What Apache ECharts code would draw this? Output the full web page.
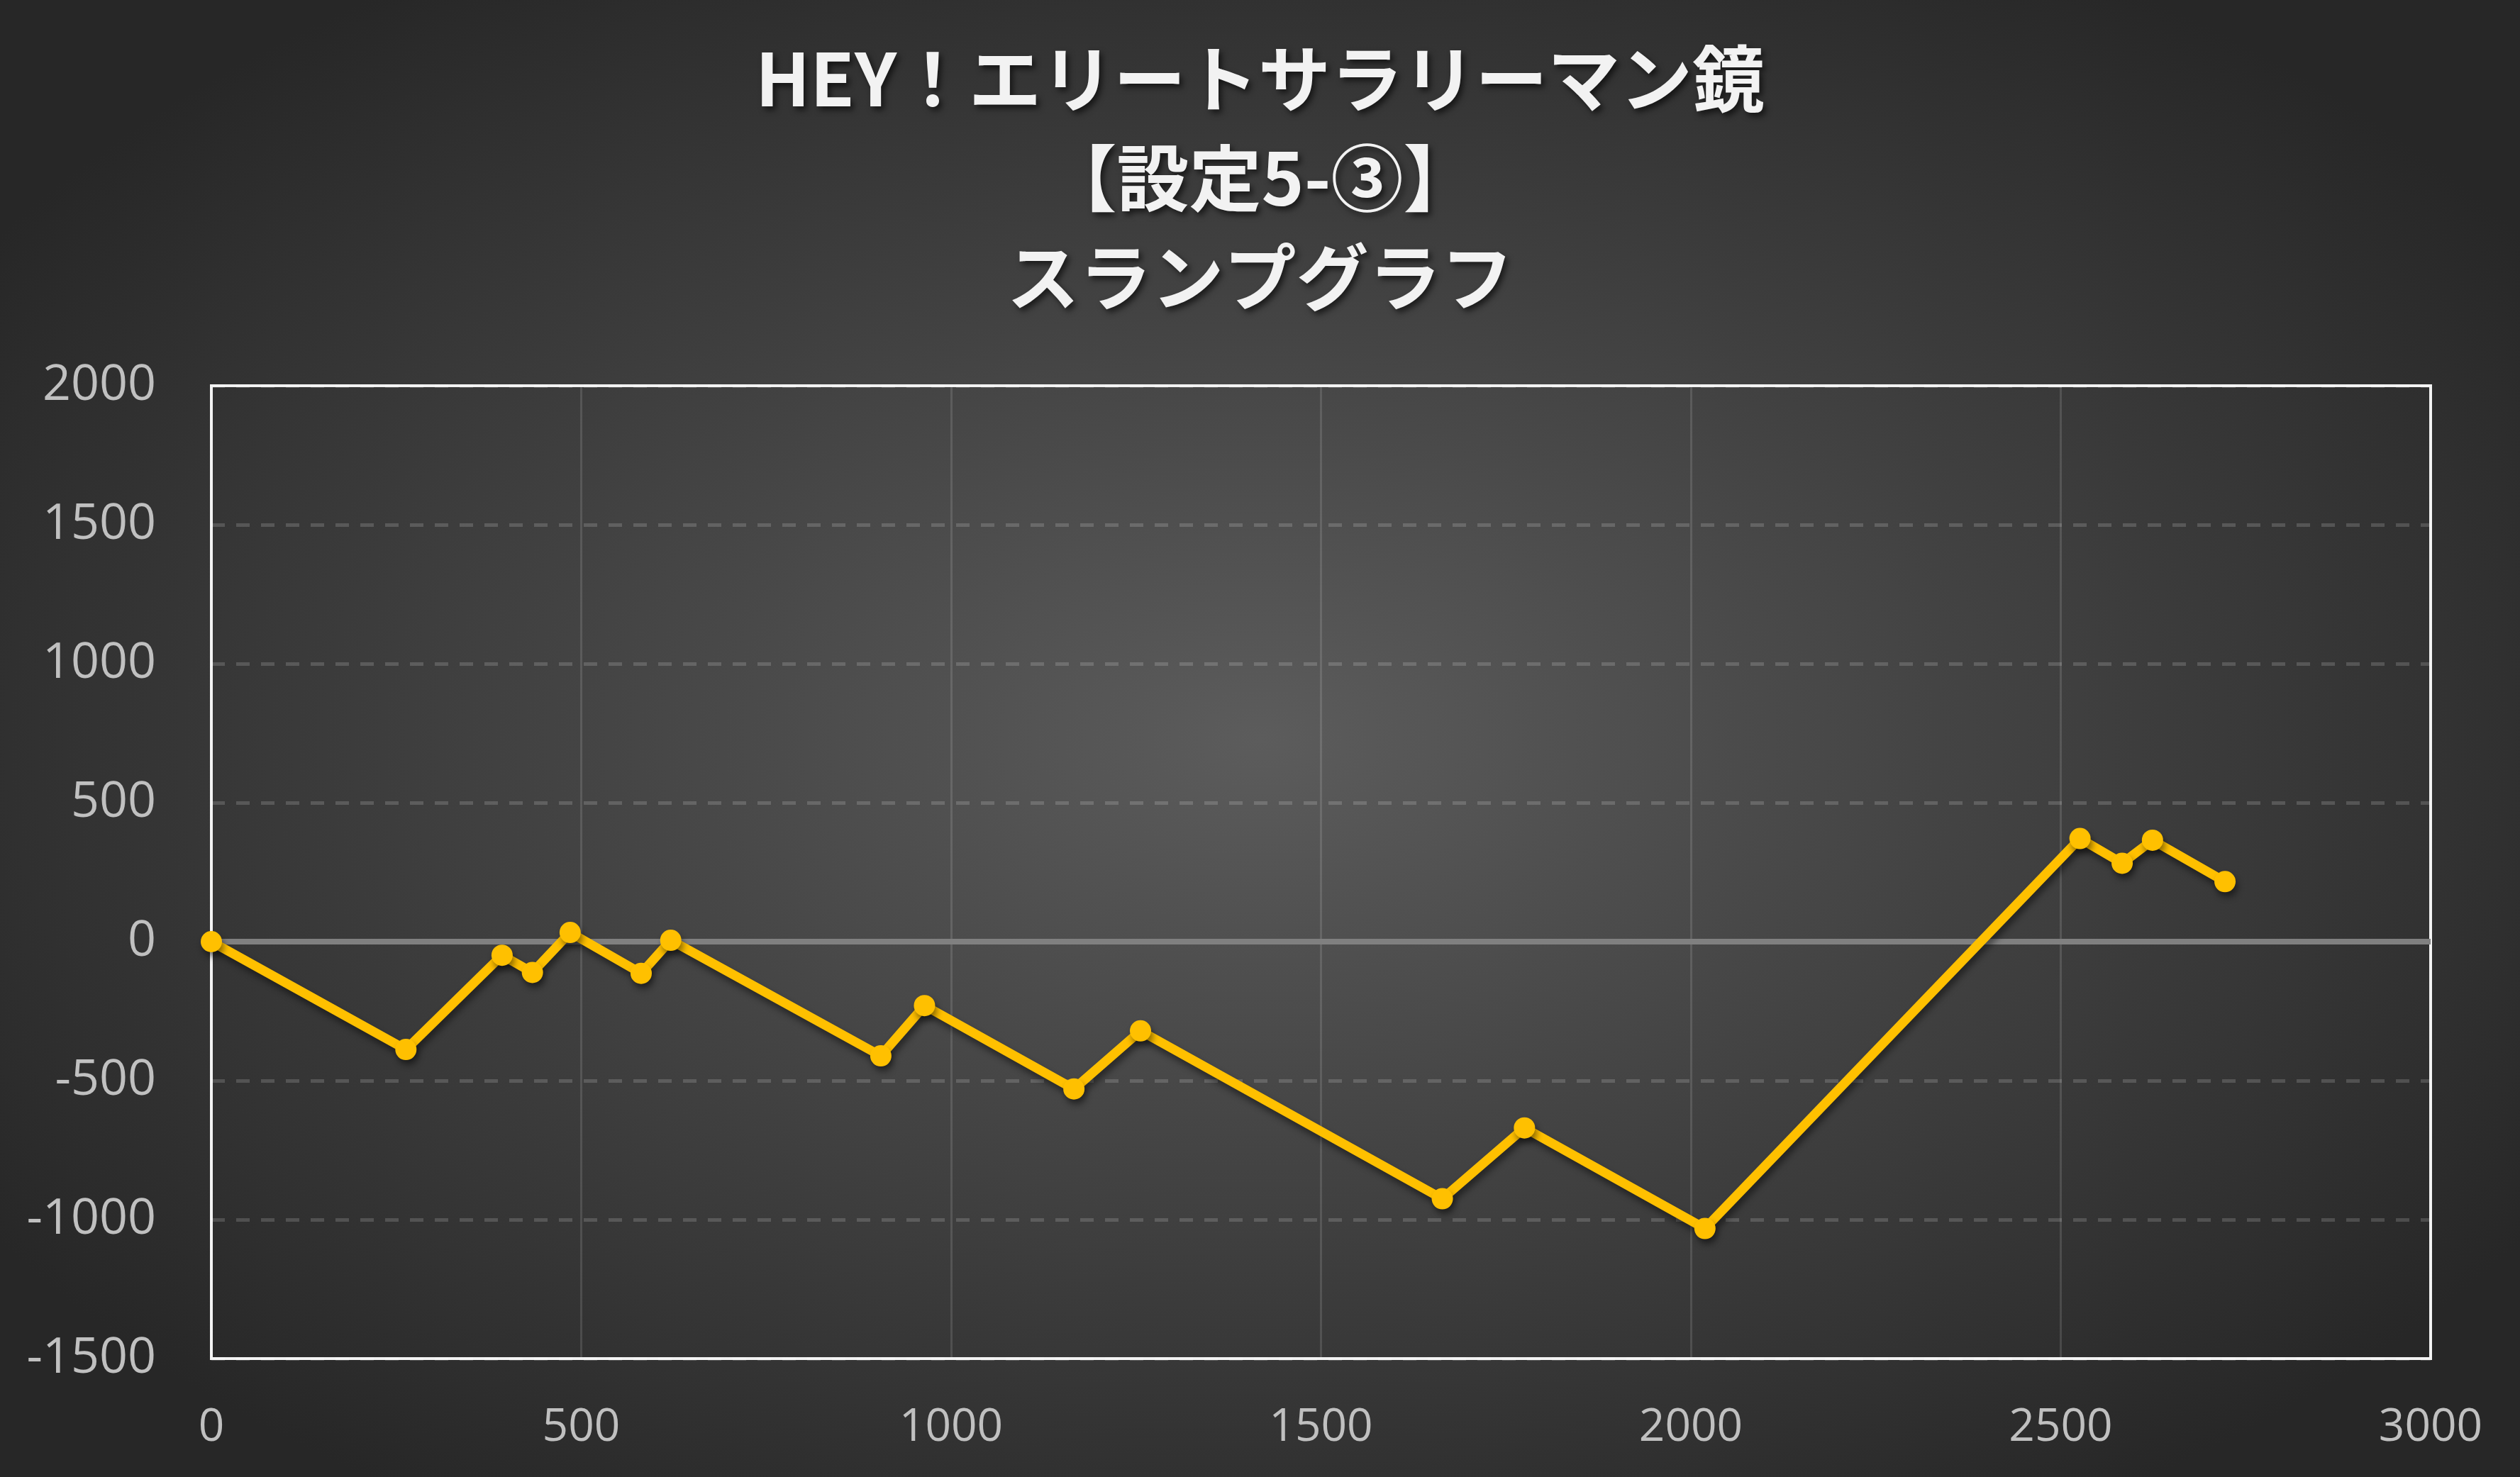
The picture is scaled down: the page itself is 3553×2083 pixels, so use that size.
<!DOCTYPE html>
<html>
<head>
<meta charset="utf-8">
<script src="https://cdn.jsdelivr.net/npm/echarts@6/dist/echarts.min.js"></script>
<style>
html,body{margin:0;padding:0;width:100%;height:100%;overflow:hidden;}
#chart{width:3553px;height:2083px;background:radial-gradient(ellipse 60% 62% at 50% 50%, #5c5c5c 0%, #3c3c3c 60%, #272727 100%);}
</style>
</head>
<body>
<div id="chart"></div>
<script>
const titleText = 'HEY！エリートサラリーマン鏡\n【設定5-③】\nスランプグラフ';
const games = [0, 263, 393, 434, 485, 581, 621, 905, 964, 1166, 1256, 1664, 1775, 2019, 2526, 2583, 2624, 2722];
const diff  = [0, -388, -49, -111, 33, -114, 5, -411, -230, -530, -321, -925, -670, -1032, 371, 282, 365, 216];
const xTicks = { min: 0, max: 3000, interval: 500 };
const yTicks = { min: -1500, max: 2000, interval: 500 };

const points = games.map((g, i) => [g, diff[i]]);
const plain = v => String(v);

const chart = echarts.init(document.getElementById('chart'), null, { renderer: 'canvas' });
chart.setOption({
  backgroundColor: 'transparent',
  animation: false,
  title: {
    text: titleText,
    left: 'center',
    top: 36,
    textStyle: {
      fontFamily: '"Noto Sans CJK JP", sans-serif',
      fontWeight: 'bold',
      fontSize: 102,
      lineHeight: 140,
      color: '#f2f2f2',
      textShadowColor: 'rgba(0,0,0,0.6)',
      textShadowBlur: 8,
      textShadowOffsetX: 4,
      textShadowOffsetY: 5
    }
  },
  grid: {
    left: 298, right: 126, top: 544, bottom: 167,
    containLabel: false,
    show: true,
    borderColor: '#f2f2f2',
    borderWidth: 4,
    backgroundColor: 'transparent'
  },
  xAxis: {
    type: 'value',
    min: xTicks.min, max: xTicks.max, interval: xTicks.interval,
    axisLine: { show: false, onZero: false },
    axisTick: { show: false },
    axisLabel: {
      margin: 66,
      formatter: plain,
      fontFamily: '"Open Sans", sans-serif',
      fontSize: 64,
      color: '#c0c0c0'
    },
    splitLine: { show: true, lineStyle: { color: 'rgba(255,255,255,0.13)', width: 3, type: 'solid' } }
  },
  yAxis: {
    type: 'value',
    min: yTicks.min, max: yTicks.max, interval: yTicks.interval,
    axisLine: { show: false },
    axisTick: { show: false },
    axisLabel: {
      margin: 78,
      formatter: plain,
      fontFamily: '"Open Sans", sans-serif',
      fontSize: 70,
      color: '#c0c0c0'
    },
    splitLine: { show: true, lineStyle: { color: 'rgba(255,255,255,0.16)', width: 5, type: [19, 16] } }
  },
  series: [{
    type: 'line',
    data: points,
    z: 3,
    symbol: 'circle',
    symbolSize: 30,
    lineStyle: {
      color: '#FFC000',
      width: 13,
      shadowColor: 'rgba(0,0,0,0.45)',
      shadowBlur: 10,
      shadowOffsetX: 3,
      shadowOffsetY: 7
    },
    itemStyle: {
      color: '#FFC000',
      shadowColor: 'rgba(0,0,0,0.45)',
      shadowBlur: 10,
      shadowOffsetX: 3,
      shadowOffsetY: 7
    },
    markLine: {
      silent: true,
      z: 1,
      symbol: ['none', 'none'],
      label: { show: false },
      lineStyle: { color: '#808080', width: 8, type: 'solid' },
      data: [{ yAxis: 0 }]
    }
  }]
});
</script>
</body>
</html>
